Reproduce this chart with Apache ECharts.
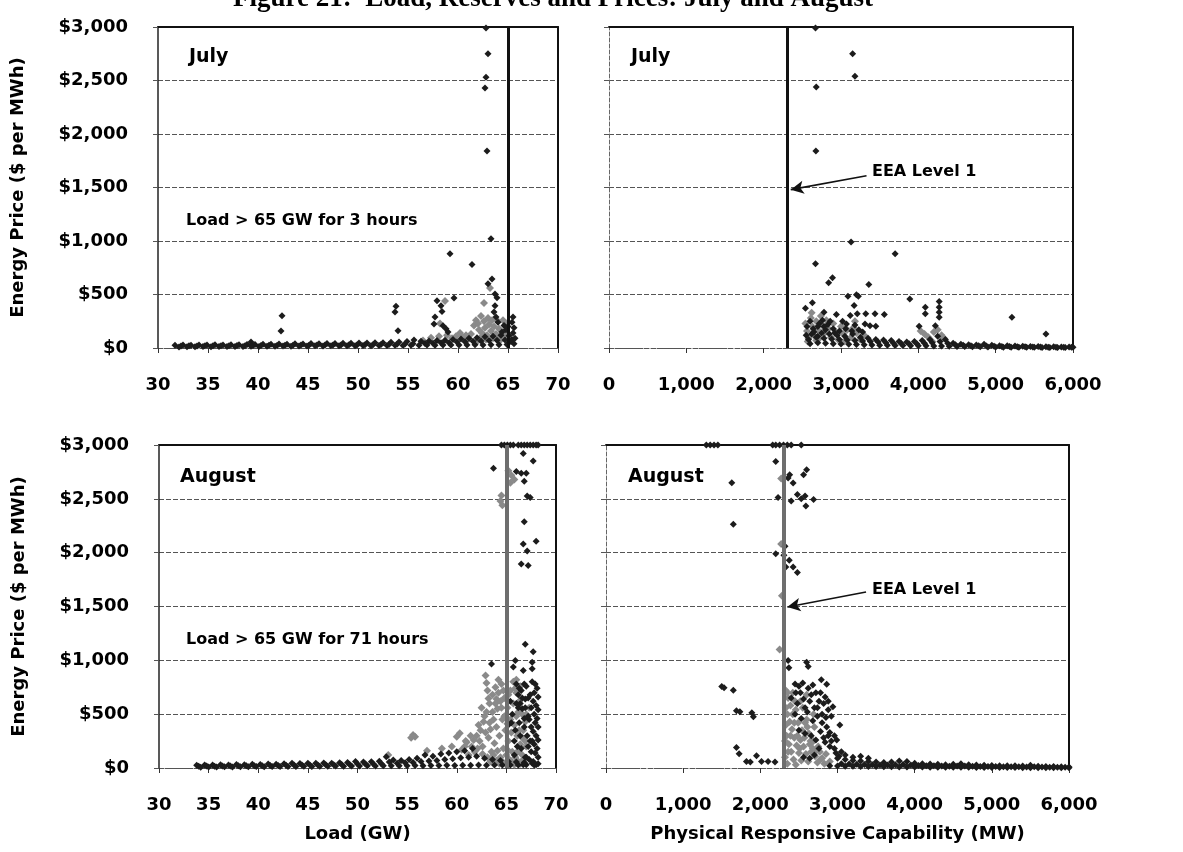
<!DOCTYPE html>
<html>
<head>
<meta charset="utf-8">
<script src="https://cdn.jsdelivr.net/npm/echarts@6/dist/echarts.min.js"></script>
<style>
html,body{margin:0;padding:0;background:#fff;}
#c{width:1183px;height:852px;}
</style>
</head>
<body>
<div id="c"></div>
<script>
// ---------------- DATA ----------------
const titleText = 'Figure 21:  Load, Reserves and Prices: July and August';
const priceTicks = [0, 500, 1000, 1500, 2000, 2500, 3000];
const loadRange = [30, 70];
const prcRange = [0, 6000];
const loadThreshold = 65;      // GW
const eeaLevel1 = 2300;        // MW

// July: Load (GW) vs Price
const julyLoadDark = [
 [31.7,25],[32.5,28],[33.3,26],[34.1,29],[34.9,27],[35.7,30],[36.5,28],[37.3,31],[38.1,30],[38.9,33],[39.3,55],[39.7,32],[40.5,35],[41.3,34],[42.1,37],[42.9,36],[43.7,39],[44.5,38],[45.3,41],[46.1,40],[46.9,43],[47.7,42],[48.5,45],[49.3,44],[50.1,47],[50.9,46],[51.7,49],[52.5,50],[53.3,53],[54.1,55],[54.9,60],[55.6,75],[56.3,62],[57.1,65],[57.9,70],[58.7,72],[59.5,80],[60.3,85],[61.1,90],[61.9,95],[62.7,105],[63.5,110],[64.3,120],[65.1,115],
 [32.3,18],[33.1,20],[33.9,19],[34.7,21],[35.5,20],[36.3,22],[37.1,21],[37.9,23],[38.7,22],[39.5,24],[40.3,23],[41.1,25],[41.9,24],[42.7,26],[43.5,25],[44.3,27],[45.1,26],[45.9,28],[46.7,27],[47.5,29],[48.3,28],[49.1,30],[49.9,29],[50.7,31],[51.5,30],[52.3,33],[53.1,32],[53.9,36],[54.7,38],[55.5,40],[56.7,42],[57.5,45],[58.3,48],[59.1,50],[59.9,55],[60.7,58],[61.5,62],[62.3,65],[63.1,70],[63.9,72],[64.7,75],[65.4,80],
 [32.1,10],[32.9,12],[33.7,11],[34.5,13],[35.3,12],[36.1,14],[36.9,13],[37.7,15],[38.5,14],[39.3,16],[40.1,15],[40.9,17],[41.7,16],[42.5,18],[43.3,17],[44.1,19],[44.9,18],[45.7,20],[46.5,19],[47.3,21],[48.1,20],[48.9,22],[49.7,21],[50.5,23],[51.3,22],[52.1,24],[52.9,23],[53.7,25],[54.5,24],[55.3,26],[56.1,25],[56.9,27],[57.7,26],[58.5,28],[59.3,27],[60.1,29],[60.9,28],[61.7,30],[62.5,29],[63.3,31],[64.1,30],[64.9,32],[65.6,40],
 [62.8,2990],[63.0,2750],[62.8,2530],[62.7,2430],[62.9,1840],[63.3,1020],[59.2,880],[61.4,780],[63.4,645],[63.0,600],[63.7,505],[63.9,470],[63.7,395],[63.6,336],[63.8,290],[64.0,240],[59.6,467],[42.4,302],[42.3,159],[53.8,390],[53.7,336],[54.0,162],[57.9,442],[58.3,395],[58.4,340],[57.7,290],[57.6,224],[58.5,208],[58.8,180],[59.0,150],[65.5,290],[65.4,240],[65.6,190],[65.5,140],[65.7,90],[65.3,60],[64.6,210],[64.8,170],[64.4,150],[65.0,200]
];
const julyLoadGrey = [
 [61.3,130],[61.6,210],[61.8,260],[62.0,230],[62.1,170],[62.3,300],[62.4,140],[62.6,250],[62.7,190],[62.9,120],[63.0,280],[63.1,220],[63.3,160],[63.4,260],[63.6,200],[63.8,130],[64.0,250],[64.1,180],[64.3,110],[64.5,260],[64.7,140],[64.9,230],[62.2,90],[62.8,80],[63.5,90],[64.2,70],[60.8,120],[61.0,80],[60.5,100],[59.8,110],[59.4,90],[58.9,120],[58.1,110],[57.3,95],[56.5,70],[60.2,140],[61.9,60],[63.9,80],[64.6,100],[58.7,440],[58.2,230],[62.6,420],[63.2,560]
];

// July: Physical Responsive Capability (MW) vs Price
const julyPrcDark = [
 [2670,2990],[3150,2750],[3180,2540],[2680,2440],[2675,1840],[3130,990],
 [3700,880],[2670,787],[2890,656],[2840,609],[3360,594],[3090,484],[3200,497],[3225,484],[3170,397],[3890,459],[2540,372],[2630,422],[2780,334],[2940,312],[3070,225],[3120,303],[3210,319],[3320,319],[3440,319],[3560,312],[3180,216],[3310,225],[3375,209],[3450,203],[4090,381],[4090,319],[4270,434],[4270,381],[4270,334],[4270,287],[4010,203],[4220,209],[5210,287],[5650,131],[2760,260],[2830,220],[2900,180],[2700,200],
 [2560,200],[2600,250],[2640,180],[2720,230],[2800,170],[2860,250],[2920,140],[2980,160],[3020,250],[3060,180],[3140,160],[3230,170],[3280,150],[2620,130],[2700,110],[2780,200],
 [2550,120],[2650,150],[2750,140],[2850,130],[2950,120],[3050,110],[3150,130],[3250,100],[3350,90],[3450,80],[3550,75],[3650,70],[3750,60],[3850,55],[3950,60],[4050,70],[4150,80],[4250,110],[4350,80],[4450,45],[4550,35],[4650,30],[4750,28],[4850,35],[4950,25],[5050,22],[5150,20],[5250,18],[5350,16],[5450,15],[5550,14],[5650,12],[5750,11],[5850,10],[5950,9],[6000,8],
 [2580,80],[2680,100],[2780,90],[2880,85],[2980,80],[3080,75],[3180,70],[3280,65],[3380,60],[3480,55],[3580,50],[3680,45],[3780,42],[3880,40],[3980,40],[4080,45],[4180,50],[4280,60],[4380,45],[4480,30],[4580,25],[4680,22],[4780,20],[4880,18],[4980,16],[5080,15],[5180,14],[5280,12],[5380,11],[5480,10],[5580,9],[5680,8],[5780,8],[5880,7],[5980,6],
 [2600,40],[2700,50],[2800,45],[2900,40],[3000,38],[3100,35],[3200,32],[3300,30],[3400,28],[3500,26],[3600,25],[3700,24],[3800,23],[3900,22],[4000,21],[4100,20],[4200,19],[4300,18],[4400,16],[4500,14],[4600,13],[4700,12],[4800,11],[4900,10],[5000,9],[5100,8],[5200,7],[5300,7],[5400,6],[5500,6],[5600,5],[5700,5],[5800,4],[5900,4]
];
const julyPrcGrey = [
 [2540,230],[2560,160],[2580,90],[2610,280],[2630,200],[2650,120],[2680,250],[2700,170],[2720,90],[2740,300],[2760,210],[2790,140],[2810,260],[2840,180],[2870,100],[2900,230],[2930,150],[2960,80],[3000,200],[3030,130],[3080,170],[3130,100],[3160,190],[3200,140],[3250,80],[3300,120],[2570,60],[2680,70],[3040,60],[4030,160],[4080,130],[4130,100],[4200,150],[4250,170],[4300,120],[4330,90],[4180,60],[2620,330],[3180,250]
];

// August: Load (GW) vs Price
const augLoadDark = [
 [33.8,25],[34.6,28],[35.4,27],[36.2,30],[37,29],[37.8,32],[38.6,31],[39.4,34],[40.2,33],[41,36],[41.8,35],[42.6,40],[43.4,45],[44.2,42],[45,44],[45.8,43],[46.6,46],[47.4,45],[48.2,48],[49,50],[49.8,60],[50.6,55],[51.4,57],[52.2,62],[52.9,105],[53.6,75],[54.4,70],[55.2,80],[56,90],[56.8,120],[57.6,110],[58.4,130],[59.2,140],[60,150],[60.8,160],[61.6,180],
 [34.0,16],[34.8,18],[35.6,17],[36.4,19],[37.2,18],[38.0,21],[38.8,20],[39.6,22],[40.4,21],[41.2,24],[42.0,23],[42.8,26],[43.6,28],[44.4,27],[45.2,29],[46.0,28],[46.8,31],[47.6,30],[48.4,32],[49.2,33],[50.0,38],[50.8,36],[51.6,38],[52.4,40],[53.2,55],[54.0,45],[54.8,48],[55.6,52],[56.4,60],[57.2,65],[58.0,70],[58.8,80],[59.6,85],[60.4,95],[61.2,100],[62.0,110],[62.8,90],[63.6,80],[64.4,70],[65.2,60],[66.0,55],[66.8,50],[67.6,45],
 [34.2,8],[35,10],[35.8,9],[36.6,11],[37.4,10],[38.2,12],[39,11],[39.8,13],[40.6,12],[41.4,14],[42.2,13],[43,15],[43.8,14],[44.6,16],[45.4,15],[46.2,17],[47,16],[47.8,18],[48.6,17],[49.4,19],[50.2,18],[51,20],[51.8,19],[52.6,21],[53.4,20],[54.2,22],[55,21],[55.8,23],[56.6,22],[57.4,24],[58.2,23],[59,25],[59.8,24],[60.6,26],[61.4,25],[62.2,27],[63,26],[63.8,28],[64.6,27],[65.4,29],[66.2,28],[67,30],[67.8,29],[68.2,40],
 [67.6,800],[67.9,780],[68.1,740],[67.8,700],[68.2,660],[67.7,620],[68.0,580],[68.2,540],[67.8,500],[68.1,460],[67.9,420],[68.2,380],[67.7,340],[68.0,300],[68.2,260],[67.8,220],[68.1,180],[67.9,140],[68.2,100],[67.7,60],[68.0,30],[67.3,450],[67.4,250],[67.2,650],[67.5,150],
 [66.8,780],[67.0,760],[66.5,720],[66.2,680],[66.9,640],[66.6,550],[66.0,600],[65.6,500],[66.3,420],[66.8,380],[67.1,300],[65.8,250],[66.5,180],[66.9,100],[65.4,620],[65.2,400],
 [66.0,780],[66.3,740],[66.6,650],[66.9,560],[67.2,480],[67.5,380],[67.2,200],[67.0,100],[66.7,30],[67.4,680],[67.5,560],[66.4,300],[66.1,200],[65.8,120],[65.5,420],[65.9,350],[66.2,560],[67.3,80],[67.6,250],[66.8,460],[66.4,600],
 [66.9,1150],[67.7,1080],[63.5,967],[65.9,998],[65.7,937],[66.7,906],[67.6,982],[67.6,921],[63.7,2783],[66.7,2920],[67.7,2852],[66.0,2753],[66.5,2738],[67.0,2738],[66.8,2663],[67.1,2527],[67.4,2512],[66.8,2286],[66.7,2081],[68.0,2105],[67.1,2015],[66.5,1895],[67.2,1880],
 [64.5,3000],[64.8,3000],[65.1,3000],[65.4,3000],[65.7,3000],[66.2,3000],[66.5,3000],[66.8,3000],[67.1,3000],[67.4,3000],[67.7,3000],[68.0,3000],[68.2,3000]
];
const augLoadGrey = [
 [65.2,2760],[65.5,2720],[65.8,2680],[65.4,2650],[64.5,2530],[64.4,2480],[64.6,2440],
 [62.9,860],[63.0,790],[63.1,720],[63.2,645],[62.5,560],[62.8,480],[63.3,420],[63.6,520],[63.9,600],[64.2,700],[64.5,780],[64.8,650],[65.1,560],[65.4,720],[65.7,800],[66.0,700],[66.3,620],[66.6,500],[66.9,430],[64.0,380],[64.3,300],[64.6,450],[64.9,350],[65.2,250],[65.5,330],[65.8,400],[66.1,300],[66.4,220],[66.7,350],[67.0,200],[62.0,300],[62.3,250],[62.6,200],[62.9,330],[63.2,280],[63.5,150],[63.8,230],[64.1,160],[64.4,100],[64.7,180],[65.0,120],[65.3,80],[65.6,150],[65.9,100],[66.2,60],[66.5,130],[61.5,200],[61.8,150],[61.2,120],[60.8,200],[60.3,322],[60.0,290],[55.6,307],[55.8,290],[55.4,280],[53.1,120],[57,160],[58.5,180],[59.5,200],[60.5,170],[61,240],[62.2,400],[63.4,360],[63.7,450],[64.1,550],[64.4,620],[67.3,560],[67.0,500],[66.2,520],
 [62.4,350],[62.7,430],[63.0,520],[63.3,600],[63.6,680],[63.9,750],[64.2,820],[64.5,560],[64.8,480],[65.1,410],[65.4,450],[65.7,600],[66.0,480],[66.3,350],[66.6,280],[66.9,250],[63.1,100],[63.4,60],[63.7,120],[64.0,70],[64.3,40],[64.6,60],[64.9,40],[65.2,160],[65.5,60],[65.8,30],[66.1,150],[66.4,40],[66.7,80],[62.6,130],[62.1,180],[61.7,260],[61.4,300],[60.9,250],[64.0,640],[64.7,720],[65.2,680],[65.9,740],[66.4,760],[66.0,820]
];

// August: Physical Responsive Capability (MW) vs Price
const augPrcDark = [
 [1300,3000],[1350,3000],[1400,3000],[1450,3000],[2160,3000],[2200,3000],[2250,3000],[2300,3000],[2350,3000],[2400,3000],[2530,3000],
 [2200,2847],[1630,2650],[2380,2724],[2360,2693],[2425,2647],[2600,2770],[2560,2724],[2480,2540],[2580,2527],[2530,2500],[2590,2433],[2400,2481],[2230,2512],[2690,2494],[1650,2264],[2320,2060],[2200,1990],[2305,1975],[2375,1929],[2425,1868],[2330,1868],[2480,1816],[2360,998],[2600,982],[2370,930],[2620,942],[1500,758],[1530,746],[1650,721],[1690,531],[1890,513],[1910,476],[1735,522],[1690,190],[1725,132],[1820,61],[1870,55],[1950,113],[2015,61],[2100,61],[2190,55],
 [2790,820],[2860,777],[2940,568],[3030,399],[2990,261],[2450,780],[2500,760],[2550,790],[2620,740],[2680,770],[2720,700],[2400,650],[2480,600],[2560,640],[2640,620],[2700,560],[2760,620],[2820,600],[2880,540],[2920,480],[2450,500],[2530,460],[2610,520],[2680,440],[2740,480],[2800,420],[2860,380],[2900,330],[2960,300],[2500,350],[2580,320],[2660,300],[2720,260],[2780,340],[2840,240],[2900,200],[2960,180],[3050,150],[3100,120],[3200,100],[3300,110],[3400,90],
 [2460,700],[2520,700],[2580,560],[2660,680],[2740,560],[2800,500],[2850,470],[2880,300],[2820,280],[2760,180],[2700,120],[2640,90],[2560,100],[2920,250],[2980,140],[3020,110],[2780,700],[2840,660],[2880,620],
 [3000,90],[3100,80],[3200,70],[3300,65],[3400,60],[3500,55],[3600,50],[3700,55],[3800,65],[3900,60],[4000,45],[4100,40],[4200,38],[4300,35],[4400,30],[4500,35],[4600,40],[4700,30],[4800,28],[4900,26],[5000,24],[5100,22],[5200,20],[5300,22],[5400,18],[5500,25],[5600,16],[5700,15],[5800,14],[5900,12],[6000,10],
 [3050,40],[3150,38],[3250,35],[3350,32],[3450,30],[3550,28],[3650,27],[3750,30],[3850,32],[3950,28],[4050,24],[4150,22],[4250,20],[4350,18],[4450,17],[4550,18],[4650,19],[4750,16],[4850,15],[4950,14],[5050,13],[5150,12],[5250,11],[5350,11],[5450,10],[5550,12],[5650,9],[5750,8],[5850,7],[5950,6],
 [2900,20],[3000,18],[3100,17],[3200,16],[3300,15],[3400,14],[3500,13],[3600,12],[3700,11],[3800,10],[3900,10],[4000,9],[4100,9],[4200,8],[4300,8],[4400,7],[4500,7],[4600,6],[4700,6],[4800,5],[4900,5],[5000,5],[5100,4],[5200,4],[5300,4],[5400,3],[5500,3],[5600,3],[5700,3],[5800,2],[5900,2],[6000,2]
];
const augPrcGrey = [
 [2250,1100],[2280,1600],[2270,2080],[2270,2690],
 [2330,720],[2360,650],[2390,580],[2420,700],[2350,500],[2380,430],[2410,360],[2440,280],[2470,210],[2500,140],[2530,70],[2340,300],[2370,220],[2400,150],[2430,80],[2460,30],[2320,100],[2350,40],[2560,200],[2590,130],[2620,60],[2650,250],[2680,180],[2710,110],[2740,50],[2770,150],[2800,90],[2830,40],[2550,560],[2580,420],[2610,380],[2640,220],[2520,260],[2490,420],[2460,540],[2700,380],[2750,200],
 [2330,400],[2330,560],[2320,250],[2360,150],[2390,300],[2420,500],[2450,620],[2480,300],[2510,180],[2540,350],[2570,280],[2600,450],[2630,320],[2660,150],[2690,250],[2720,160],[2780,80],[2850,130],[2900,60],[2520,620],[2600,680],[2350,700],[2440,420],[2690,500]
];

// annotation arrows (data coordinates: [from],[to])
const julyArrow = [[3330,1610],[2350,1480]];
const augArrow = [[3370,1635],[2350,1495]];

// ---------------- CHART ----------------
const FONT = 'DejaVu Sans';
const chart = echarts.init(document.getElementById('c'), null, {renderer:'canvas'});

const grids = [
  {left:158, top:27, width:400, height:321},
  {left:609, top:27, width:464, height:321},
  {left:159, top:445, width:397, height:323},
  {left:606, top:445, width:463, height:323}
];

function fmtNum(v){ return v.toLocaleString('en-US'); }

function mainX(i, isLoad, name){
  return {
    type:'value', gridIndex:i,
    min: isLoad ? loadRange[0] : prcRange[0],
    max: isLoad ? loadRange[1] : prcRange[1],
    interval: isLoad ? 5 : 1000,
    name: name || '', nameLocation:'middle', nameGap:57,
    nameTextStyle:{fontFamily:FONT, fontWeight:'bold', fontSize:18, color:'#000'},
    axisLine:{show:true, onZero:false, lineStyle:{color:'#555', width:1, type:'dashed'}},
    axisTick:{show:true, length:5, lineStyle:{color:'#333'}},
    axisLabel:{margin:28, fontFamily:FONT, fontWeight:'bold', fontSize:18, color:'#000',
      formatter: v => fmtNum(v)},
    splitLine:{show:false}
  };
}
function mainY(i, showLabels){
  return {
    type:'value', gridIndex:i, min:0, max:3000, interval:500,
    name: showLabels ? 'Energy Price ($ per MWh)' : '',
    nameLocation:'middle', nameGap:131, nameRotate:90,
    nameTextStyle:{fontFamily:FONT, fontWeight:'bold', fontSize:18, color:'#000'},
    axisLine:{show:true, onZero:false, lineStyle: showLabels ? {color:'#222', width:1.5} : {color:'#666', width:1, type:'dashed'}},
    axisTick:{show:true, length:5, lineStyle:{color:'#555'}},
    axisLabel:{show:showLabels, margin:30, fontFamily:FONT, fontWeight:'bold', fontSize:18, color:'#000',
      formatter: v => '$' + fmtNum(v)},
    splitLine:{show:true, lineStyle:{color:'#555', width:1, type:[5,2]}}
  };
}
function borderX(i){
  return {type:'value', gridIndex:i, position:'top', min:0, max:1,
    axisLine:{show:true, onZero:false, lineStyle:{color:'#111', width:2}},
    axisTick:{show:false}, axisLabel:{show:false}, splitLine:{show:false}};
}
function borderY(i){
  return {type:'value', gridIndex:i, position:'right', min:0, max:1,
    axisLine:{show:true, onZero:false, lineStyle:{color:'#111', width:2}},
    axisTick:{show:false}, axisLabel:{show:false}, splitLine:{show:false}};
}

const DARK = '#1c1c1c', GREY = '#8a8a8a';
function scatter(i, data, color, size, extra){
  return Object.assign({
    type:'scatter', xAxisIndex:i, yAxisIndex:i, data:data,
    symbol:'diamond', symbolSize:size,
    itemStyle:{color:color, opacity:1},
    silent:true, animation:false
  }, extra || {});
}
function vline(value, color, width){
  return {silent:true, symbol:['none','none'], label:{show:false},
    lineStyle:{color:color, width:width, type:'solid'},
    data:[{xAxis:value}]};
}
function eeaMark(lineColor, lineWidth, arrow){
  return {
    silent:true, symbol:['none','none'], label:{show:false},
    lineStyle:{type:'solid', color:'#111', width:1.6},
    data:[
      [{coord:[eeaLevel1,0], lineStyle:{color:lineColor, width:lineWidth, type:'solid'}}, {coord:[eeaLevel1,3000]}],
      [{coord:arrow[0], symbol:'none', lineStyle:{color:'#111', width:1.6, type:'solid'}}, {coord:arrow[1], symbol:'arrow', symbolSize:[10,13]}]
    ]};
}

const series = [
  scatter(0, julyLoadGrey, GREY, 8),
  scatter(0, julyLoadDark, DARK, 7, {markLine: vline(loadThreshold, '#111', 3)}),
  scatter(1, julyPrcGrey, GREY, 8),
  scatter(1, julyPrcDark, DARK, 7, {markLine: eeaMark('#111', 3, julyArrow)}),
  scatter(2, augLoadGrey, GREY, 8),
  scatter(2, augLoadDark, DARK, 7, {markLine: vline(loadThreshold, '#6e6e6e', 4)}),
  scatter(3, augPrcGrey, GREY, 8),
  scatter(3, augPrcDark, DARK, 7, {markLine: eeaMark('#6e6e6e', 4, augArrow)})
];

function txt(text, x, y, size, align, vAlign, family, weight){
  return {type:'text', x:x, y:y, silent:true, z:100,
    style:{text:text, fill:'#000', font: (weight||'bold') + ' ' + size + 'px "' + (family||FONT) + '"',
      align:align||'left', verticalAlign:vAlign||'middle'}};
}

const option = {
  animation:false,
  backgroundColor:'#fff',
  grid: grids,
  xAxis: [mainX(0,true), mainX(1,false), mainX(2,true,'Load (GW)'), mainX(3,false,'Physical Responsive Capability (MW)'),
          borderX(0), borderX(1), borderX(2), borderX(3)],
  yAxis: [mainY(0,true), mainY(1,false), mainY(2,true), mainY(3,false),
          borderY(0), borderY(1), borderY(2), borderY(3)],
  series: series,
  graphic: [
    txt(titleText, 553, 13, 27, 'center', 'bottom', 'Liberation Serif', 'bold'),
    txt('July', 189, 57, 19),
    txt('July', 631, 57, 19),
    txt('August', 180, 477, 19),
    txt('August', 628, 477, 19),
    txt('Load > 65 GW for 3 hours', 186, 221, 16),
    txt('Load > 65 GW for 71 hours', 186, 640, 16),
    txt('EEA Level 1', 872, 172, 16),
    txt('EEA Level 1', 872, 590, 16)
  ]
};
chart.setOption(option);
</script>
</body>
</html>
